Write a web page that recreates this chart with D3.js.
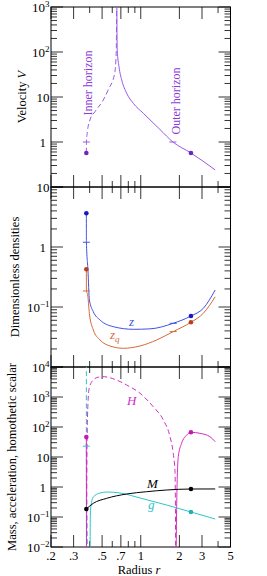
<!DOCTYPE html>
<html>
<head>
<meta charset="utf-8">
<script src="https://cdn.jsdelivr.net/npm/d3@7"></script>
<style>
body { margin: 0; background: #fff; }
</style>
</head>
<body>
<div id="chart"></div>
<script>
// x axis (radius r), log scale
var xTicksMajor = [0.2, 0.3, 0.5, 0.7, 1, 2, 3, 5];
var xTickLabels = [".2", ".3", ".5", ".7", "1", "2", "3", "5"];
var xTicksMinor = [0.4, 0.6, 0.8, 0.9, 4];

// marked radii
var rDot = [0.377, 2.46];
var rHorizon = [0.377, 1.78];

// panel 1 : velocity V
var vInR = [0.377, 0.3775, 0.384, 0.402, 0.44, 0.511, 0.557, 0.627, 0.645, 0.650];
var vInV = [0.57, 1.0, 1.69, 3.08, 4.71, 8.58, 14.3, 34, 111, 3000];
var vOutR = [0.650, 0.656, 0.677, 0.711, 0.777, 0.875, 1.047, 1.41, 1.78, 2.46, 3.8];
var vOutV = [3000, 111, 47, 23.9, 12.1, 7.24, 4.35, 1.9, 1.0, 0.57, 0.24];
var vDots = [0.57, 0.57];
var vTicks = [1000, 100, 10, 1];

// panel 2 : dimensionless densities
var zR = [0.377, 0.3775, 0.388, 0.398, 0.427, 0.482, 0.612, 0.875, 1.18, 1.79, 2.46, 3.07, 3.8];
var zV = [3.65, 1.2, 0.414, 0.131, 0.0835, 0.0607, 0.047, 0.0425, 0.0432, 0.0535, 0.0708, 0.095, 0.192];
var zqR = [0.377, 0.3775, 0.386, 0.398, 0.427, 0.482, 0.576, 0.731, 0.987, 1.33, 1.79, 2.46, 3.07, 3.8];
var zqV = [0.425, 0.185, 0.16, 0.0785, 0.0414, 0.0282, 0.0224, 0.0205, 0.0224, 0.0282, 0.0389, 0.0556, 0.0785, 0.148];
var zMarks = [1.2, 0.0535];
var zqMarks = [0.185, 0.0389];
var densTicks = [10, 1, 0.1];

// panel 3 : mass M, acceleration g, homothetic scalar H
var mR = [0.377, 0.427, 0.543, 0.777, 1.11, 1.59, 2.46, 3.8];
var mV = [0.185, 0.286, 0.419, 0.585, 0.697, 0.794, 0.857, 0.86];
var gInR = [0.377, 0.3772, 0.3776, 0.381, 0.386];
var gInV = [1e6, 23, 2, 0.1, 0.001];
var gOutR = [0.402, 0.406, 0.427, 0.482, 0.543, 0.689, 0.987, 1.59, 2.46, 3.8];
var gOutV = [0.001, 0.171, 0.464, 0.631, 0.681, 0.631, 0.43, 0.251, 0.147, 0.0858];
var hInR = [0.377, 0.378];
var hInV = [46, 0.001];
var hMidR = [0.378, 0.382, 0.388, 0.397, 0.427, 0.47, 0.52, 0.6, 0.777, 0.987, 1.25, 1.5, 1.69, 1.79, 1.85, 1.875];
var hMidV = [0.001, 30, 600, 2000, 3700, 4600, 4750, 4150, 2512, 1330, 475, 171, 47.5, 13.3, 3.0, 0.001];
var hOutR = [1.88, 1.906, 1.96, 2.08, 2.28, 2.46, 2.89, 3.46, 3.8];
var hOutV = [0.001, 0.29, 10.2, 28.6, 54, 66.5, 61.6, 47.5, 32.4];
var hDots = [46, 66.5];
var mDots = [0.185, 0.857];
var gDots = [0.147];
var gMarks = [23];
var massTicks = [1e4, 1e3, 100, 10, 1, 0.1, 0.01];

var width = 267, height = 576;
var left = 51, right = 230.5;
var serif = "Liberation Serif";

var svg = d3.select("#chart").append("svg")
    .attr("width", width)
    .attr("height", height)
    .attr("font-family", serif);

var x = d3.scaleLog().domain([0.2, 5]).range([left, right]);

var purple = "#9a58e4", purpleText = "#8a3ad8", purpleDot = "#6a24c8";
var blue = "#4050e4", blueDot = "#1818c0";
var orange = "#d8683a", orangeDot = "#b8401c";
var magenta = "#d42cc4", magentaDot = "#c41ab0";
var cyan = "#2cc4cc", cyanDot = "#20b0b8";

function zip(a, b) {
    return a.map(function(d, i) { return [d, b[i]]; });
}

function minorTicks(domain) {
    var out = [];
    var lo = Math.round(Math.log10(domain[0])), hi = Math.round(Math.log10(domain[1]));
    for (var e = lo; e <= hi; e++) {
        for (var k = 1; k <= 9; k++) {
            var v = k * Math.pow(10, e);
            if (v >= domain[0] * 0.999 && v <= domain[1] * 1.001) out.push({v: v, major: k === 1});
        }
    }
    return out;
}

function powLabel(sel, v) {
    var e = Math.round(Math.log10(v));
    if (e === 0) { sel.text("1"); return; }
    sel.append("tspan").text("10");
    if (e !== 1) {
        sel.append("tspan")
            .attr("dy", "-0.45em")
            .attr("font-size", "9px")
            .text(e < 0 ? "\u2212" + (-e) : String(e));
    }
}

function panel(id, top, bottom, domain, labels) {
    var y = d3.scaleLog().domain(domain).range([bottom, top]);
    var g = svg.append("g");

    g.append("clipPath").attr("id", "clip" + id)
        .append("rect")
        .attr("x", left).attr("y", top)
        .attr("width", right - left).attr("height", bottom - top);

    // frame
    g.append("rect")
        .attr("x", left).attr("y", top)
        .attr("width", right - left).attr("height", bottom - top)
        .attr("fill", "none").attr("stroke", "#000").attr("stroke-width", 1);

    // y ticks, both sides, inside
    var yt = minorTicks(domain);
    g.selectAll(".yl").data(yt).enter().append("line")
        .attr("x1", left).attr("x2", function(d) { return left + (d.major ? 12 : 6); })
        .attr("y1", function(d) { return y(d.v); }).attr("y2", function(d) { return y(d.v); })
        .attr("stroke", "#000").attr("stroke-width", 0.8);
    g.selectAll(".yr").data(yt).enter().append("line")
        .attr("x1", right).attr("x2", function(d) { return right - (d.major ? 12 : 6); })
        .attr("y1", function(d) { return y(d.v); }).attr("y2", function(d) { return y(d.v); })
        .attr("stroke", "#000").attr("stroke-width", 0.8);

    // x ticks, top and bottom, inside
    var xt = xTicksMajor.map(function(v) { return {v: v, major: true}; })
        .concat(xTicksMinor.map(function(v) { return {v: v, major: false}; }));
    g.selectAll(".xb").data(xt).enter().append("line")
        .attr("x1", function(d) { return x(d.v); }).attr("x2", function(d) { return x(d.v); })
        .attr("y1", bottom).attr("y2", function(d) { return bottom - (d.major ? 12 : 6); })
        .attr("stroke", "#000").attr("stroke-width", 0.8);
    g.selectAll(".xt").data(xt).enter().append("line")
        .attr("x1", function(d) { return x(d.v); }).attr("x2", function(d) { return x(d.v); })
        .attr("y1", top).attr("y2", function(d) { return top + (d.major ? 12 : 6); })
        .attr("stroke", "#000").attr("stroke-width", 0.8);

    // tick labels
    labels.forEach(function(v) {
        var t = g.append("text")
            .attr("x", v === 1 ? 46 : 49.5)
            .attr("y", y(v) + 4.5)
            .attr("text-anchor", "end")
            .attr("font-size", "13px")
            .attr("fill", "#000");
        powLabel(t, v);
    });

    var plot = g.append("g").attr("clip-path", "url(#clip" + id + ")");
    return {y: y, g: g, plot: plot};
}

function curve(p, rs, vs, color, dashed) {
    var line = d3.line()
        .x(function(d) { return x(d[0]); })
        .y(function(d) { return p.y(d[1]); })
        .curve(d3.curveMonotoneX);
    p.plot.append("path")
        .attr("d", line(zip(rs, vs)))
        .attr("fill", "none")
        .attr("stroke", color)
        .attr("stroke-width", 1)
        .attr("stroke-dasharray", dashed ? "5,3" : null);
}

function dots(p, rs, vs, color) {
    p.plot.selectAll(null).data(zip(rs, vs)).enter().append("circle")
        .attr("cx", function(d) { return x(d[0]); })
        .attr("cy", function(d) { return p.y(d[1]); })
        .attr("r", 2.3)
        .attr("fill", color);
}

function marks(p, rs, vs, color) {
    p.plot.selectAll(null).data(zip(rs, vs)).enter().append("line")
        .attr("x1", function(d) { return x(d[0]) - 3.5; })
        .attr("x2", function(d) { return x(d[0]) + 3.5; })
        .attr("y1", function(d) { return p.y(d[1]); })
        .attr("y2", function(d) { return p.y(d[1]); })
        .attr("stroke", color).attr("stroke-width", 1);
}

function vlabel(xp, yp, parts, color, size) {
    var t = svg.append("text")
        .attr("transform", "translate(" + xp + "," + yp + ") rotate(-90)")
        .attr("text-anchor", "middle")
        .attr("font-size", size || "12.5px")
        .attr("fill", color || "#000");
    parts.forEach(function(s) {
        t.append("tspan").attr("font-style", s[1] ? "italic" : null).text(s[0]);
    });
}

function label(xp, yp, txt, sub, color) {
    var t = svg.append("text")
        .attr("x", xp).attr("y", yp)
        .attr("font-size", "13px")
        .attr("font-style", "italic")
        .attr("fill", color);
    t.append("tspan").text(txt);
    if (sub) t.append("tspan").attr("dy", "0.3em").attr("font-size", "9px").text(sub);
}

// panel 1
var p1 = panel(1, 7, 187, [0.1, 1000], vTicks);
curve(p1, vInR, vInV, purple, true);
curve(p1, vOutR, vOutV, purple, false);
marks(p1, rHorizon, [1, 1], purple);
dots(p1, rDot, vDots, purpleDot);

// panel 2
var p2 = panel(2, 187, 367, [0.01, 10], densTicks);
curve(p2, zR, zV, blue, false);
curve(p2, zqR, zqV, orange, false);
marks(p2, [rHorizon[0], 1.79], zMarks, blue);
marks(p2, [rHorizon[0], 1.79], zqMarks, orange);
dots(p2, rDot, [zV[0], zV[10]], blueDot);
dots(p2, rDot, [zqV[0], zqV[11]], orangeDot);

// panel 3
var p3 = panel(3, 367, 547, [0.01, 1e4], massTicks);
curve(p3, gInR, gInV, cyan, true);
curve(p3, hInR, hInV, magenta, false);
curve(p3, hMidR, hMidV, magenta, true);
curve(p3, hOutR, hOutV, magenta, false);
curve(p3, gOutR, gOutV, cyan, false);
curve(p3, mR, mV, "#000", false);
marks(p3, [rDot[0]], gMarks, cyan);
dots(p3, rDot, hDots, magentaDot);
dots(p3, rDot, mDots, "#000");
dots(p3, [rDot[1]], gDots, cyanDot);

// x tick labels under the bottom panel
svg.selectAll(".xlab").data(xTicksMajor).enter().append("text")
    .attr("x", function(d) { return x(d); })
    .attr("y", 560)
    .attr("text-anchor", "middle")
    .attr("font-size", "12.5px")
    .text(function(d, i) { return xTickLabels[i]; });

// axis titles
vlabel(26, 97, [["Velocity ", false], ["V", true]]);
vlabel(19, 277, [["Dimensionless densities", false]]);
vlabel(16, 457, [["Mass, acceleration, homothetic scalar", false]]);
var xt = svg.append("text")
    .attr("x", 139).attr("y", 574)
    .attr("text-anchor", "middle")
    .attr("font-size", "12.5px");
xt.append("tspan").text("Radius ");
xt.append("tspan").attr("font-style", "italic").text("r");

// curve annotations
vlabel(92, 83, [["Inner horizon", false]], purpleText, "12px");
vlabel(180, 101, [["Outer horizon", false]], purpleText, "12px");
label(129, 326, "z", null, blue);
label(110, 339, "z", "q", orange);
label(127, 405, "H", null, magenta);
label(147, 488, "M", null, "#000");
label(148, 509, "g", null, cyan);
</script>
</body>
</html>
